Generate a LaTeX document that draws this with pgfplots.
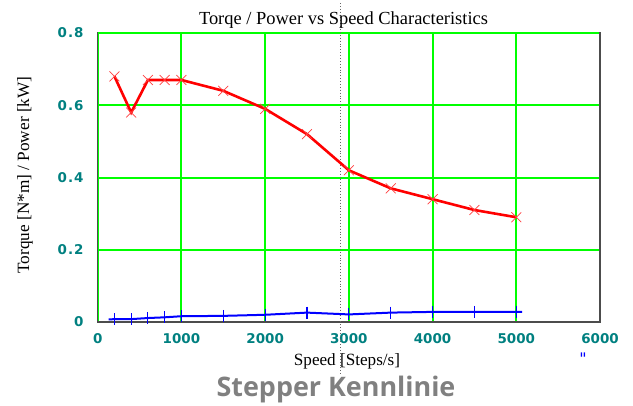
\documentclass[border=0pt]{standalone}
\usepackage{fontspec}
\setmainfont{Liberation Serif}
\newfontfamily\tickfont{DejaVu Sans}
\newfontfamily\capfont{Open Sans}
\usepackage{pgfplots}
\pgfplotsset{compat=1.18}
\definecolor{tealtick}{RGB}{0,128,128}
\definecolor{gridgreen}{RGB}{0,255,0}
\definecolor{capgray}{RGB}{128,128,128}

\begin{document}
\begin{tikzpicture}[x=1bp,y=1bp]
\path[use as bounding box] (-97.7,-83) rectangle (535.3,322);
\begin{axis}[
    at={(0,0)}, anchor=south west,
    scale only axis, width=502.3bp, height=289bp,
    xmin=0, xmax=6000, ymin=0, ymax=0.8,
    xtick={0,1000,2000,3000,4000,5000,6000},
    xticklabels={0,1000,2000,3000,4000,5000,6000},
    ytick={0,0.2,0.4,0.6,0.8},
    yticklabels={0,0\kern1pt.\kern1pt2,0\kern1pt.\kern1pt4,0\kern1pt.\kern1pt6,0\kern1pt.\kern1pt8},
    xmajorgrids, ymajorgrids,
    major grid style={draw=gridgreen, line width=2bp},
    major tick length=0pt,
    axis line style={black!70, line width=1.2bp},
    ticklabel style={font=\tickfont\bfseries\fontsize{13.5}{13.5}\selectfont, text=tealtick},
    yticklabel style={anchor=east, inner sep=0pt, xshift=-14bp},
    xticklabel style={anchor=north, inner sep=0pt, yshift=-11bp},
    clip=false,
]
\draw[draw=gridgreen, line width=2bp] (axis cs:0,0.8) -- (axis cs:6000,0.8);
\draw[black!70, line width=1.2bp] (axis cs:6000,0) -- (axis cs:6000,0.802);
\draw[dotted, black!60, line width=0.9bp] (axis cs:2900,0.883) -- (axis cs:2900,-0.147);
% torque
\addplot[color=red, line width=2.6bp, mark=x, mark size=7bp,
    mark options={line width=0.7bp, red!75}] coordinates {
(200,0.68)(400,0.58)(600,0.67)(800,0.67)(1000,0.67)(1500,0.64)(2000,0.59)
(2500,0.52)(3000,0.42)(3500,0.37)(4000,0.34)(4500,0.31)(5000,0.29)
};
% power
\addplot[color=blue, line width=2bp, mark=|, mark size=6bp,
    mark indices={2,...,14}, mark options={line width=1.1bp}] coordinates {
(130,0.007)(200,0.008)(400,0.008)(600,0.011)(800,0.013)(1000,0.016)(1500,0.017)
(2000,0.020)(2500,0.026)(3000,0.021)(3500,0.026)(4000,0.028)(4500,0.028)(5000,0.028)(5070,0.028)
};
\end{axis}
\node[font=\fontsize{18.5}{18.5}\selectfont] at (245.8,302) {Torqe / Power vs Speed Characteristics};
\node[font=\fontsize{17.2}{17.2}\selectfont] at (249.3,-39) {Speed [Steps/s]};
\node[font=\fontsize{17.3}{17.3}\selectfont, rotate=90] at (-72.7,147) {Torque [N*m] / Power [kW]};
\node[font=\tickfont\fontsize{16}{16}\selectfont, text=blue] at (485.3,-37) {"};
\node[font=\capfont\bfseries\fontsize{27}{27}\selectfont, text=capgray] at (238.3,-68) {Stepper Kennlinie};
\end{tikzpicture}
\end{document}
